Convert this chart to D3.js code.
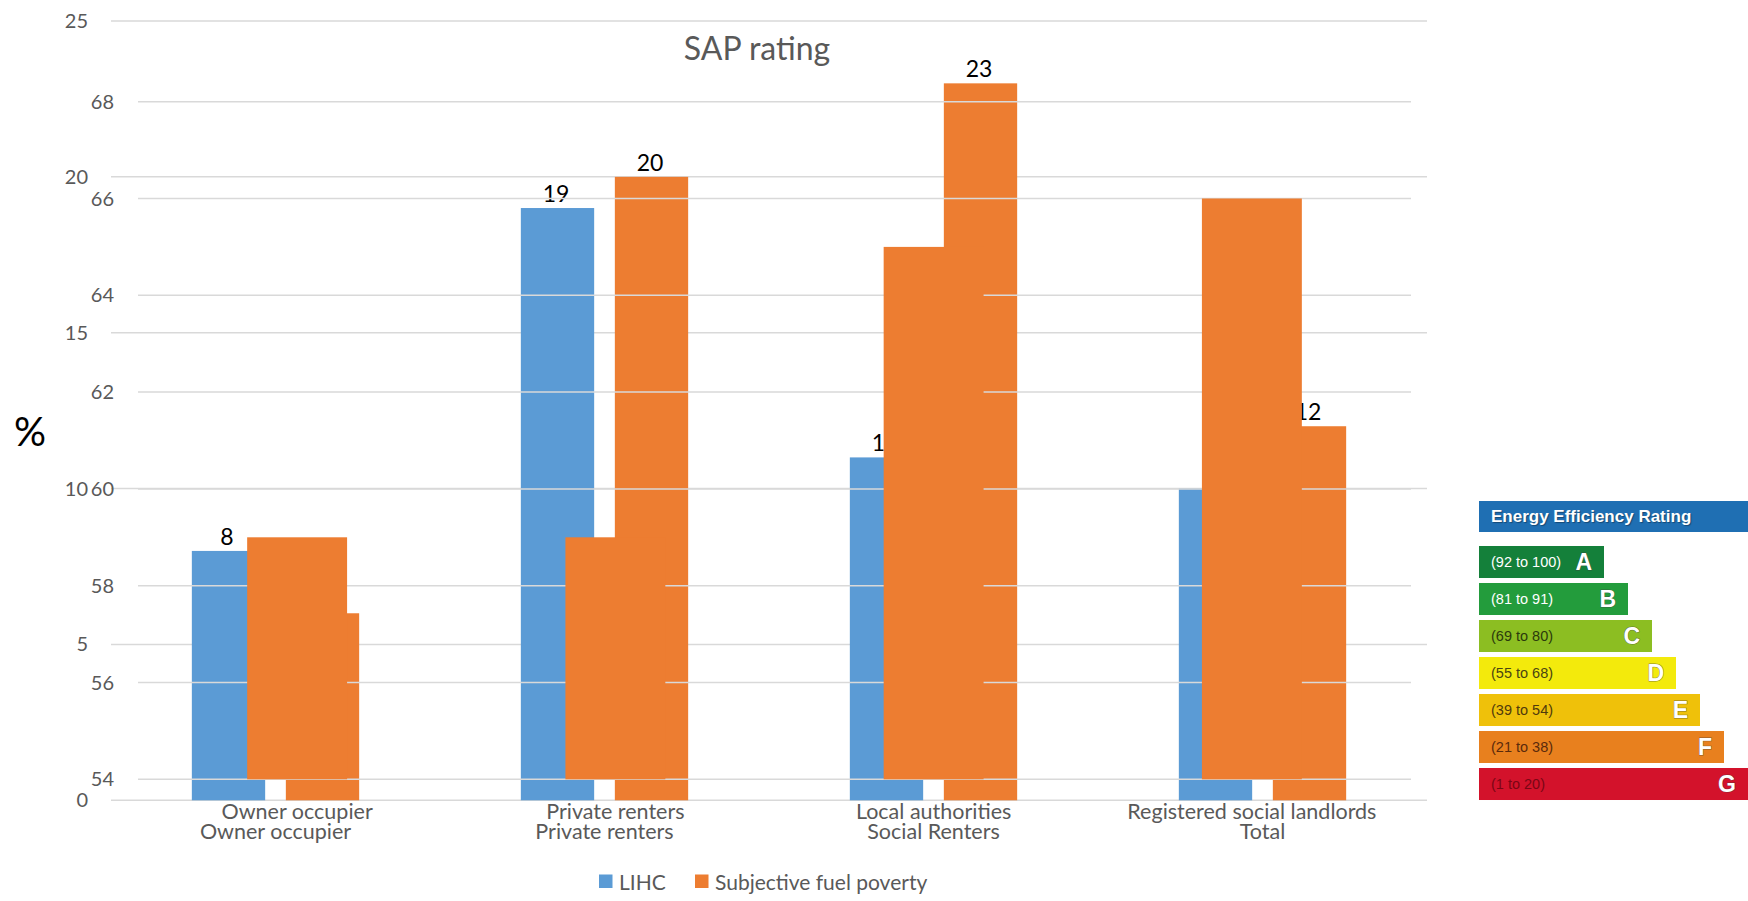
<!DOCTYPE html>
<html>
<head>
<meta charset="utf-8">
<script src="https://cdn.jsdelivr.net/npm/d3@7"></script>
<style>
  body { margin: 0; background: #fff; }
  svg { display: block; }
</style>
</head>
<body>
<script>
// ---- data ----
const pctCategories = ["Owner occupier", "Private renters", "Social Renters", "Total"];
const series = ["LIHC", "Subjective fuel poverty"];
const lihc = [8, 19, 11, 10];
const subjective = [6, 20, 23, 12];
const pctTicks = [0, 5, 10, 15, 20, 25];

const sapCategories = ["Owner occupier", "Private renters", "Local authorities", "Registered social landlords"];
const sapValues = [59, 59, 65, 66];
const sapTicks = [54, 56, 58, 60, 62, 64, 66, 68];

const eerLetters = ["A", "B", "C", "D", "E", "F", "G"];
const eerRanges = ["(92 to 100)", "(81 to 91)", "(69 to 80)", "(55 to 68)", "(39 to 54)", "(21 to 38)", "(1 to 20)"];

const W = 1748, H = 901;
const grid = "#d9d9d9", tickCol = "#595959";
const colors = d3.scaleOrdinal().domain(series).range(["#5b9bd5", "#ed7d31"]);
const eerFill = d3.scaleOrdinal().domain(eerLetters)
  .range(["#14803a", "#239c3c", "#8cbe22", "#f3ea0c", "#efc10a", "#e8801e", "#d3122b"]);
const eerText = d3.scaleOrdinal().domain(eerLetters)
  .range(["#ffffff", "#ffffff", "#2b3a0c", "#4a4512", "#4f3a0c", "#5a2a0c", "#7a0614"]);

const svg = d3.select("body").append("svg")
  .attr("width", W).attr("height", H)
  .style("font-family", "Lato, 'Open Sans', sans-serif");

// ---- percent chart (bottom layer) ----
const x0 = d3.scaleBand().domain(pctCategories).range([111, 1427]);
const x1 = d3.scaleBand().domain(series).range([0, x0.bandwidth()]).paddingInner(0.22).paddingOuter(0.86);
const yp = d3.scaleLinear().domain([0, 25]).range([800.3, 21]);

const pct = svg.append("g");
pct.selectAll("line.pg").data(pctTicks).enter().append("line")
  .attr("x1", 111).attr("x2", 1427)
  .attr("y1", d => yp(d)).attr("y2", d => yp(d))
  .attr("stroke", grid).attr("stroke-width", 1.5);

pct.selectAll("text.pt").data(pctTicks).enter().append("text")
  .attr("x", 88).attr("y", d => yp(d)).attr("dy", "0.35em")
  .attr("text-anchor", "end").attr("fill", tickCol).style("font-size", "20px")
  .text(d => d);

const rows = pctCategories.map((c, i) => ({ c, vals: [lihc[i], subjective[i]] }));
const grp = pct.selectAll("g.cat").data(rows).enter().append("g")
  .attr("transform", d => `translate(${x0(d.c)},0)`);
grp.selectAll("rect").data(d => d.vals.map((v, j) => ({ s: series[j], v }))).enter().append("rect")
  .attr("x", d => x1(d.s)).attr("width", x1.bandwidth())
  .attr("y", d => yp(d.v)).attr("height", d => yp(0) - yp(d.v))
  .attr("fill", d => colors(d.s));
grp.selectAll("text").data(d => d.vals.map((v, j) => ({ s: series[j], v }))).enter().append("text")
  .attr("x", d => x1(d.s) + x1.bandwidth() / 2 - 1.5).attr("y", d => yp(d.v) - 6)
  .attr("text-anchor", "middle").attr("fill", "#000").style("font-size", "23px")
  .text(d => d.v);

pct.selectAll("text.pc").data(pctCategories).enter().append("text")
  .attr("x", d => x0(d) + x0.bandwidth() / 2).attr("y", 839)
  .attr("text-anchor", "middle").attr("fill", tickCol).style("font-size", "21.5px")
  .text(d => d);

svg.append("text").attr("x", 30).attr("y", 446).attr("text-anchor", "middle")
  .style("font-size", "40px").attr("fill", "#000").text("%");

// legend
const leg = svg.append("g");
const legX = [599, 695];
series.forEach((s, i) => {
  leg.append("rect").attr("x", legX[i]).attr("y", 874.5).attr("width", 13.5).attr("height", 13.5)
    .attr("fill", colors(s));
  leg.append("text").attr("x", legX[i] + 20).attr("y", 889.5)
    .attr("fill", tickCol).style("font-size", "21px").text(s);
});

// ---- SAP rating chart (overlaid, transparent) ----
const xs = d3.scaleBand().domain(sapCategories).range([138, 1411]).paddingInner(0.686).paddingOuter(0.343);
const ys = d3.scaleLinear().domain([54, 68]).range([779.3, 101.7]);

const sap = svg.append("g");
sap.selectAll("line").data(sapTicks).enter().append("line")
  .attr("x1", 138).attr("x2", 1411)
  .attr("y1", d => ys(d)).attr("y2", d => ys(d))
  .attr("stroke", grid).attr("stroke-width", 1.5);

sap.selectAll("text.st").data(sapTicks).enter().append("text")
  .attr("x", 114).attr("y", d => ys(d)).attr("dy", "0.35em")
  .attr("text-anchor", "end").attr("fill", tickCol).style("font-size", "20px")
  .text(d => d);

sap.selectAll("rect").data(sapCategories).enter().append("rect")
  .attr("x", d => xs(d)).attr("width", xs.bandwidth())
  .attr("y", (d, i) => ys(sapValues[i])).attr("height", (d, i) => ys(54) - ys(sapValues[i]))
  .attr("fill", colors(series[1]));

sap.selectAll("text.sc").data(sapCategories).enter().append("text")
  .attr("x", d => xs(d) + xs.bandwidth() / 2).attr("y", 819)
  .attr("text-anchor", "middle").attr("fill", tickCol).style("font-size", "21.5px")
  .text(d => d);

sap.append("text").attr("x", 757).attr("y", 60).attr("text-anchor", "middle")
  .attr("fill", tickCol).style("font-size", "32px").text("SAP rating");

// ---- Energy Efficiency Rating panel ----
const eer = svg.append("g").style("font-family", "'Liberation Sans', Arial, sans-serif");
const eerLeft = 1479;
const ry = d3.scaleBand().domain(eerLetters).range([543.5, 802.5]).paddingInner(0.135).paddingOuter(0.0675);
const rw = d3.scaleLinear().domain([0, eerLetters.length - 1]).range([125, 269]);

eer.append("rect").attr("x", eerLeft).attr("y", 501).attr("width", W - eerLeft).attr("height", 31)
  .attr("fill", "#1f6fb3");
eer.append("text").attr("x", eerLeft + 12).attr("y", 516.5).attr("dy", "0.35em")
  .attr("fill", "#fff").style("font-size", "17px").style("font-weight", "bold")
  .style("text-shadow", "1px 1px 1px rgba(0,0,0,0.35)")
  .text("Energy Efficiency Rating");

const bands = eer.selectAll("g.band").data(eerLetters).enter().append("g")
  .attr("transform", d => `translate(${eerLeft},${ry(d)})`);
bands.append("rect")
  .attr("width", (d, i) => rw(i)).attr("height", ry.bandwidth())
  .attr("fill", d => eerFill(d));
bands.append("text")
  .attr("x", 12).attr("y", ry.bandwidth() / 2).attr("dy", "0.35em")
  .attr("fill", d => eerText(d)).style("font-size", "14.5px")
  .text((d, i) => eerRanges[i]);
bands.append("text")
  .attr("x", (d, i) => rw(i) - 12).attr("y", ry.bandwidth() / 2).attr("dy", "0.36em")
  .attr("text-anchor", "end").attr("fill", "#fff")
  .attr("stroke", "rgba(60,60,60,0.6)").attr("stroke-width", 1).attr("paint-order", "stroke")
  .style("font-size", "23px").style("font-weight", "bold")
  .text(d => d);
</script>
</body>
</html>
